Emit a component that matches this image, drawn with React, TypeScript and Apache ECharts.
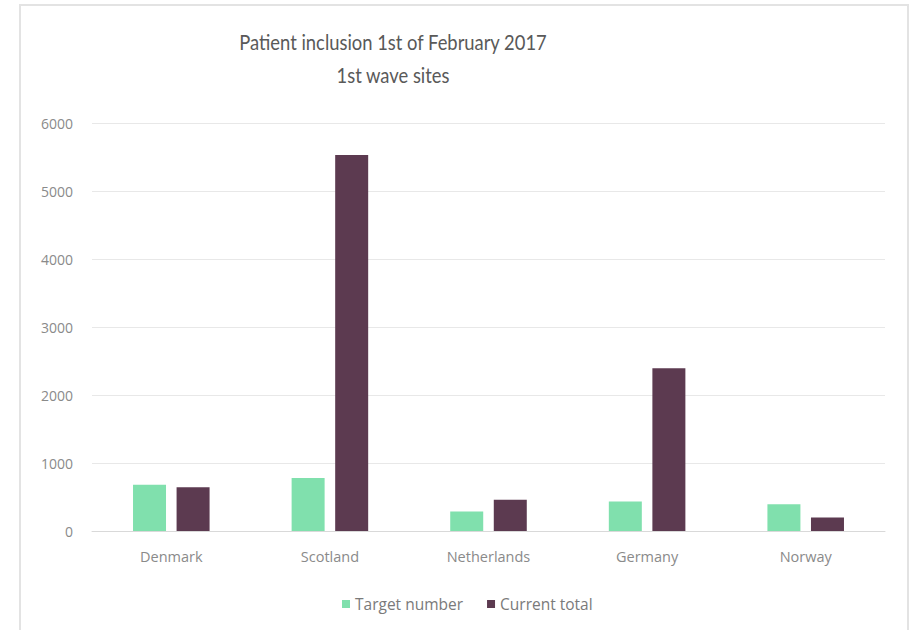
import React, { useEffect, useRef } from "react";
import * as echarts from "echarts";

const categories = ["Denmark", "Scotland", "Netherlands", "Germany", "Norway"];
const targetNumber = [680, 780, 285, 435, 395];
const currentTotal = [645, 5530, 458, 2395, 198];
const yTicks = { min: 0, max: 6000, interval: 1000 };
const titleLines = ["Patient inclusion 1st of February 2017", "1st wave sites"];
const seriesNames = ["Target number", "Current total"];

const TITLE_FONT = "Lato";
const FONT = "Open Sans";

export default function App() {
  const ref = useRef<HTMLDivElement>(null);
  useEffect(() => {
    if (!ref.current) return;
    const chart = echarts.init(ref.current, undefined, { renderer: "svg" });
    chart.setOption({
      animation: false,
      backgroundColor: "transparent",
      textStyle: { fontFamily: FONT },
      graphic: [
        {
          type: "text",
          x: 393,
          y: 42,
          scaleX: 0.875,
          style: {
            text: titleLines[0],
            fontFamily: TITLE_FONT,
            fontSize: 21,
            fill: "#595959",
            textAlign: "center",
            textVerticalAlign: "middle",
          },
        },
        {
          type: "text",
          x: 393,
          y: 75,
          scaleX: 0.875,
          style: {
            text: titleLines[1],
            fontFamily: TITLE_FONT,
            fontSize: 21,
            fill: "#595959",
            textAlign: "center",
            textVerticalAlign: "middle",
          },
        },
      ],
      legend: {
        data: seriesNames,
        left: 337,
        top: 591,
        itemWidth: 8,
        itemHeight: 8,
        itemGap: 24,
        icon: "rect",
        textStyle: { color: "#7a7a7a", fontSize: 15.5, fontFamily: FONT },
      },
      grid: { left: 92, right: 25, top: 123, bottom: 99, containLabel: false },
      xAxis: {
        type: "category",
        data: categories,
        axisLine: { lineStyle: { color: "#d9d9d9" } },
        axisTick: { show: false },
        axisLabel: { color: "#8a8a8a", fontSize: 14.5, margin: 18, fontFamily: FONT },
      },
      yAxis: {
        type: "value",
        min: yTicks.min,
        max: yTicks.max,
        interval: yTicks.interval,
        axisLine: { show: false },
        axisTick: { show: false },
        splitLine: { lineStyle: { color: "#e8e8e8" } },
        axisLabel: {
          color: "#8a8a8a",
          fontSize: 14,
          margin: 19,
          fontFamily: FONT,
          formatter: (v: number) => String(v),
        },
      },
      series: [
        {
          name: seriesNames[0],
          type: "bar",
          data: targetNumber,
          barWidth: 33,
          barGap: "32%",
          itemStyle: { color: "#80e0ad" },
        },
        {
          name: seriesNames[1],
          type: "bar",
          data: currentTotal,
          barWidth: 33,
          itemStyle: { color: "#5c3a50" },
        },
      ],
    });
    return () => chart.dispose();
  }, []);
  return (
    <div style={{ position: "fixed", left: 0, top: 0, width: 910, height: 630, background: "#fff", overflow: "hidden" }}>
      <div
        style={{
          position: "absolute",
          left: 19,
          top: 4,
          width: 890,
          height: 640,
          border: "2px solid #e3e3e3",
          boxSizing: "border-box",
        }}
      />
      <div ref={ref} style={{ position: "absolute", left: 0, top: 0, width: 910, height: 630 }} />
    </div>
  );
}
